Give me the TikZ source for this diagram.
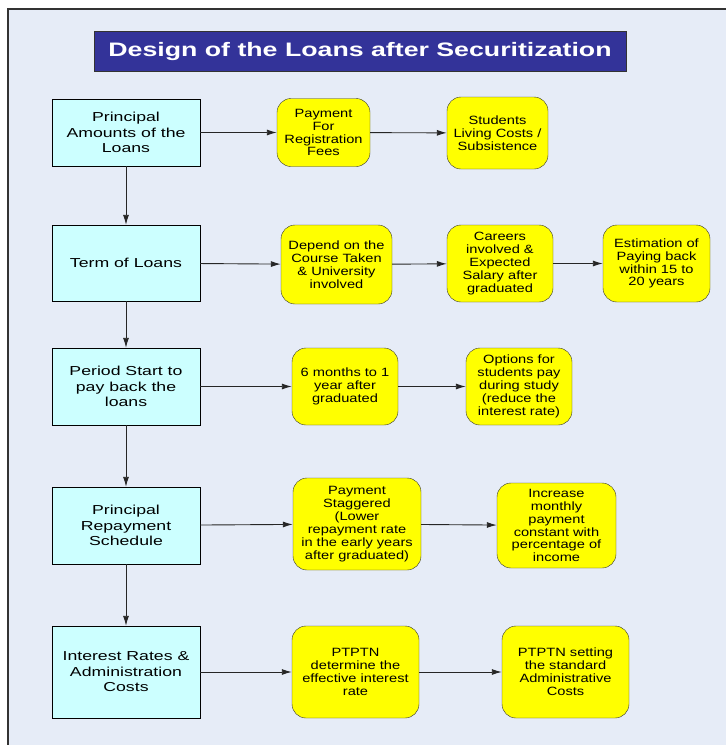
\documentclass[tikz,border=0pt]{standalone}
\usepackage{fontspec}
\setmainfont{Liberation Sans}
\newfontfamily\headfont{Liberation Sans}[FakeStretch=1.37]
\newfontfamily\stagefont{Liberation Sans}[FakeStretch=1.36]
\newfontfamily\notefont{Liberation Sans}[FakeStretch=1.22]
\usetikzlibrary{positioning, arrows.meta}

\definecolor{pagebg}{HTML}{E6ECF7}
\definecolor{titleblue}{HTML}{333399}
\definecolor{stagecyan}{HTML}{CCFFFF}
\definecolor{noteyellow}{HTML}{FFFF00}
\definecolor{linegray}{HTML}{333333}

\begin{document}
\begin{tikzpicture}[
        x=1pt, y=-1pt,
        titlebox/.style={rectangle, draw=linegray, fill=titleblue, text=white, minimum width=532pt, minimum height=40pt, inner sep=0pt, font=\headfont\bfseries\fontsize{19.5}{23}\selectfont},
        stage/.style={rectangle, draw=black, fill=stagecyan, align=center, minimum width=148pt, inner sep=0pt, font=\stagefont\fontsize{13}{15.5}\selectfont}, % left column
        note/.style={rectangle, rounded corners=14pt, draw=linegray, fill=noteyellow, align=center, inner sep=0pt, font=\notefont\fontsize{12}{12.9}\selectfont}, % yellow boxes
        link/.style={draw=black!85, line width=0.9pt, -{Latex[length=10pt,width=6pt]}}
    ]
    \useasboundingbox (0,0) rectangle (726,745);
    \fill[pagebg] (8,9) rectangle (726,745);
    \draw[linegray, line width=1.5pt] (8,745) -- (8,9) -- (726,9);

    \node[titlebox] (title) at (360,51) {Design of the Loans after Securitization};

    % left column
    \node[stage, minimum height=67pt] (amount) at (126,132.5) {Principal\\Amounts of the\\Loans};
    \node[stage, minimum height=76pt] (term) at (126,263) {Term of Loans};
    \node[stage, minimum height=77pt] (start) at (126,386.5) {Period Start to\\pay back the\\loans};
    \node[stage, minimum height=77pt] (schedule) at (126,525.5) {Principal\\Repayment\\Schedule};
    \node[stage, minimum height=92pt] (rates) at (126,672) {Interest Rates \&\\Administration\\Costs};

    % details
    \node[note, minimum width=93pt, minimum height=68pt] (fees) at (323.5,132.5) {Payment\\For\\Registration\\Fees};
    \node[note, minimum width=101pt, minimum height=72pt] (living) at (497.5,133) {Students\\Living Costs /\\Subsistence};

    \node[note, minimum width=111pt, minimum height=79pt] (course) at (336.5,264.5) {Depend on the\\Course Taken\\\& University\\involved};
    \node[note, minimum width=106pt, minimum height=77pt] (career) at (500,263.5) {Careers\\involved \&\\Expected\\Salary after\\graduated};
    \node[note, minimum width=107pt, minimum height=77pt] (estimate) at (656.5,263.5) {Estimation of\\Paying back\\within 15 to\\20 years};

    \node[note, minimum width=106pt, minimum height=77pt] (months) at (345,386.5) {6 months to 1\\year after\\graduated};
    \node[note, minimum width=106pt, minimum height=77pt] (options) at (519,386.5) {Options for\\students pay\\during study\\(reduce the\\interest rate)};

    \node[note, minimum width=128pt, minimum height=92pt] (stagger) at (357,524) {Payment\\Staggered\\(Lower\\repayment rate\\in the early years\\after graduated)};
    \node[note, minimum width=119pt, minimum height=85pt] (increase) at (556.5,525.5) {Increase\\monthly\\payment\\constant with\\percentage of\\income};

    \node[note, minimum width=127pt, minimum height=92pt] (effective) at (355.5,672) {PTPTN\\determine the\\effective interest\\rate};
    \node[note, minimum width=127pt, minimum height=92pt] (admin) at (565.5,672) {PTPTN setting\\the standard\\Administrative\\Costs};

    % connectors
    \draw[link] (amount) -- (term);
    \draw[link] (term) -- (start);
    \draw[link] (start) -- (schedule);
    \draw[link] (schedule) -- (rates);

    \draw[link] (amount) -- (fees);
    \draw[link] (fees) -- (living);
    \draw[link] (term) -- (course);
    \draw[link] (course) -- (career);
    \draw[link] (career) -- (estimate);
    \draw[link] (start) -- (months);
    \draw[link] (months) -- (options);
    \draw[link] (schedule) -- (stagger);
    \draw[link] (stagger) -- (increase);
    \draw[link] (rates) -- (effective);
    \draw[link] (effective) -- (admin);
\end{tikzpicture}
\end{document}
